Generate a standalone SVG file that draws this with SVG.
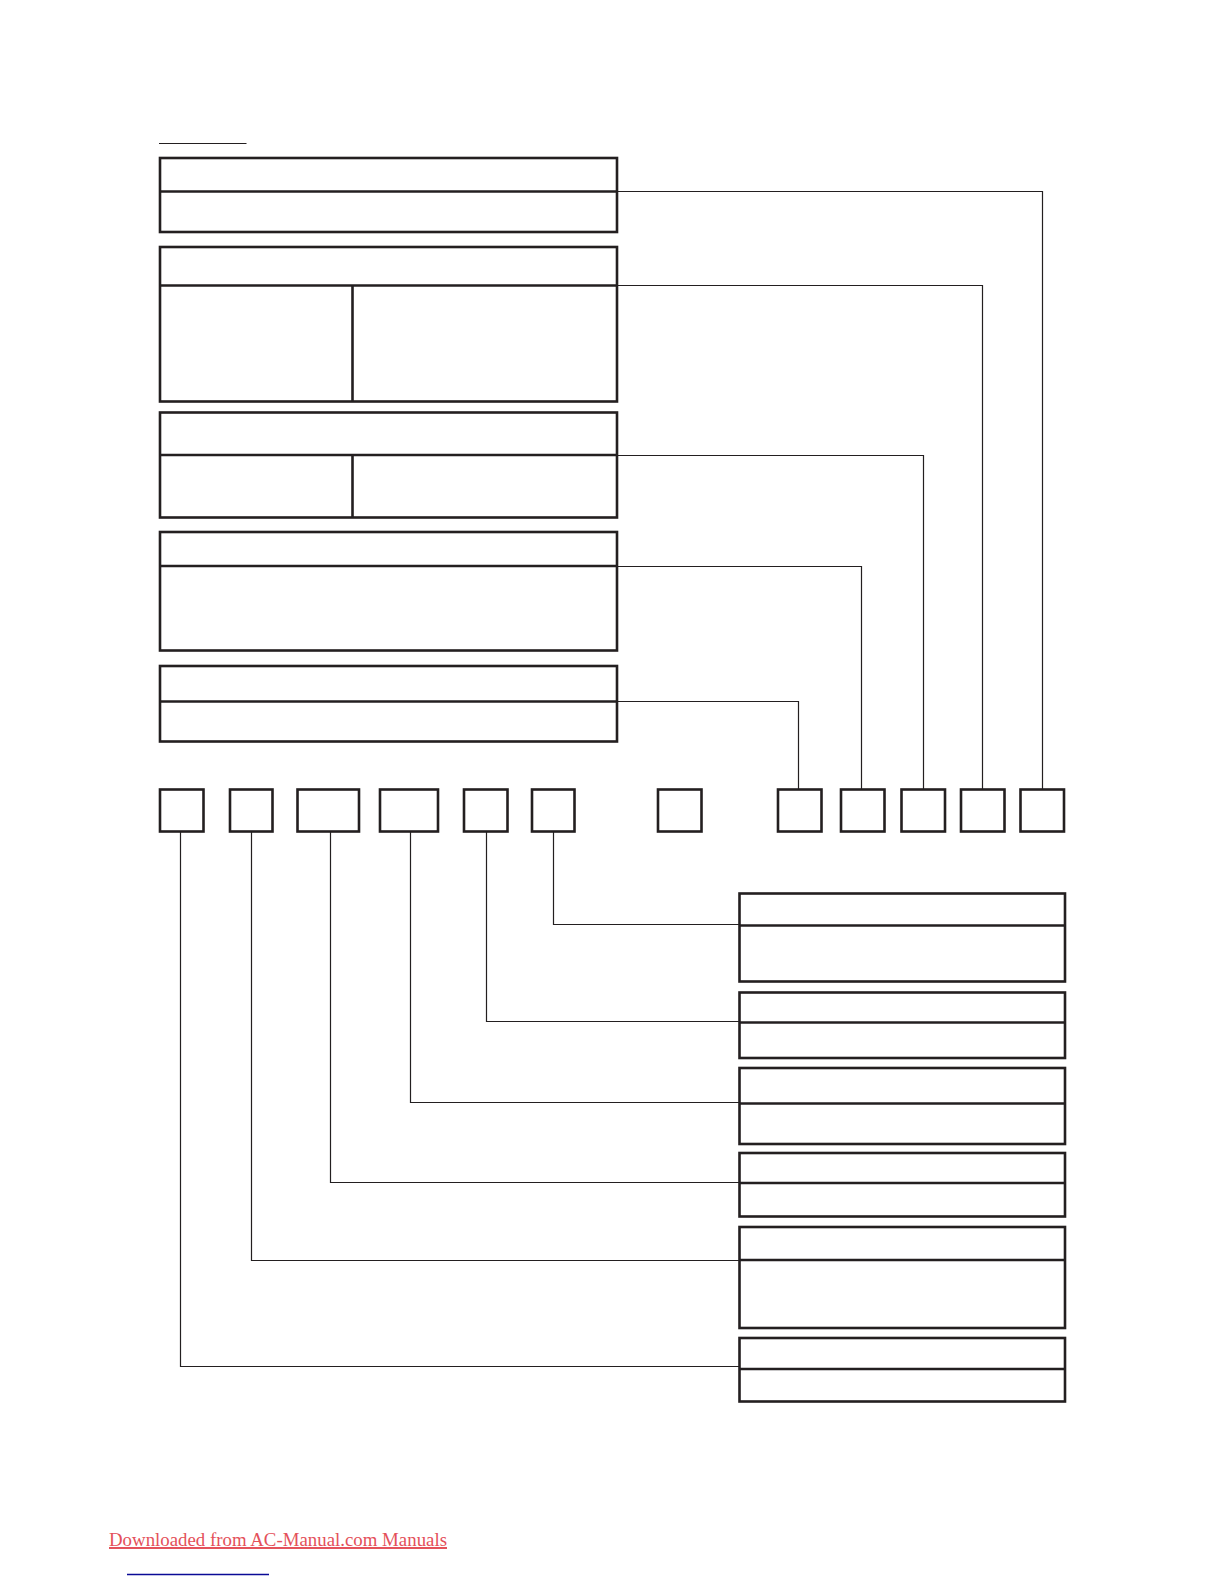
<svg xmlns="http://www.w3.org/2000/svg" width="1224" height="1584" viewBox="0 0 1224 1584">
<style>
.box{fill:none;stroke:#231f20;stroke-width:2.6}
.div{stroke:#231f20;stroke-width:2.6}
.conn{fill:none;stroke:#231f20;stroke-width:1.2}
.link{font-family:"Liberation Serif","Times New Roman",serif;font-size:19.7px;fill:#e4505a}
</style>
<rect width="1224" height="1584" fill="#ffffff"/>
<line x1="159" y1="143.5" x2="246.5" y2="143.5" stroke="#231f20" stroke-width="1.2"/>
<g id="panel-a">
<rect class="box" x="160" y="158" width="457" height="74"/>
<line class="div" x1="160" y1="191.5" x2="617" y2="191.5"/>
</g>
<g id="panel-b">
<rect class="box" x="160" y="247" width="457" height="154.5"/>
<line class="div" x1="160" y1="285.5" x2="617" y2="285.5"/>
<line class="div" x1="352.5" y1="285.5" x2="352.5" y2="401.5"/>
</g>
<g id="panel-c">
<rect class="box" x="160" y="412.5" width="457" height="105"/>
<line class="div" x1="160" y1="455" x2="617" y2="455"/>
<line class="div" x1="352.5" y1="455" x2="352.5" y2="517.5"/>
</g>
<g id="panel-d">
<rect class="box" x="160" y="532" width="457" height="118.5"/>
<line class="div" x1="160" y1="566" x2="617" y2="566"/>
</g>
<g id="panel-e">
<rect class="box" x="160" y="666" width="457" height="75.5"/>
<line class="div" x1="160" y1="701.5" x2="617" y2="701.5"/>
</g>
<g id="code-1"><rect class="box" x="160" y="789.5" width="43.5" height="42"/></g>
<g id="code-2"><rect class="box" x="230" y="789.5" width="42.5" height="42"/></g>
<g id="code-3"><rect class="box" x="297.5" y="789.5" width="61.5" height="42"/></g>
<g id="code-4"><rect class="box" x="380" y="789.5" width="58" height="42"/></g>
<g id="code-5"><rect class="box" x="464" y="789.5" width="43.5" height="42"/></g>
<g id="code-6"><rect class="box" x="532" y="789.5" width="42.5" height="42"/></g>
<g id="code-7"><rect class="box" x="658" y="789.5" width="43.5" height="42"/></g>
<g id="code-8"><rect class="box" x="778" y="789.5" width="43.5" height="42"/></g>
<g id="code-9"><rect class="box" x="841" y="789.5" width="43.5" height="42"/></g>
<g id="code-10"><rect class="box" x="901.5" y="789.5" width="43.5" height="42"/></g>
<g id="code-11"><rect class="box" x="961" y="789.5" width="43.5" height="42"/></g>
<g id="code-12"><rect class="box" x="1020.5" y="789.5" width="43.5" height="42"/></g>
<g id="panel-r1">
<rect class="box" x="739.5" y="893.5" width="325.5" height="88"/>
<line class="div" x1="739.5" y1="925.5" x2="1065" y2="925.5"/>
</g>
<g id="panel-r2">
<rect class="box" x="739.5" y="992.5" width="325.5" height="65.5"/>
<line class="div" x1="739.5" y1="1022.5" x2="1065" y2="1022.5"/>
</g>
<g id="panel-r3">
<rect class="box" x="739.5" y="1068" width="325.5" height="76"/>
<line class="div" x1="739.5" y1="1103.5" x2="1065" y2="1103.5"/>
</g>
<g id="panel-r4">
<rect class="box" x="739.5" y="1153" width="325.5" height="63.5"/>
<line class="div" x1="739.5" y1="1183" x2="1065" y2="1183"/>
</g>
<g id="panel-r5">
<rect class="box" x="739.5" y="1227" width="325.5" height="101"/>
<line class="div" x1="739.5" y1="1260" x2="1065" y2="1260"/>
</g>
<g id="panel-r6">
<rect class="box" x="739.5" y="1338" width="325.5" height="63.5"/>
<line class="div" x1="739.5" y1="1369" x2="1065" y2="1369"/>
</g>
<g id="connectors">
<polyline class="conn" points="617,191.5 1042.5,191.5 1042.5,789.5"/>
<polyline class="conn" points="617,285.5 982.5,285.5 982.5,789.5"/>
<polyline class="conn" points="617,455.5 923.5,455.5 923.5,789.5"/>
<polyline class="conn" points="617,566.5 861.5,566.5 861.5,789.5"/>
<polyline class="conn" points="617,701.5 798.5,701.5 798.5,789.5"/>
<polyline class="conn" points="553.5,831.5 553.5,924.5 739.5,924.5"/>
<polyline class="conn" points="486.5,831.5 486.5,1021.5 739.5,1021.5"/>
<polyline class="conn" points="410.5,831.5 410.5,1102.5 739.5,1102.5"/>
<polyline class="conn" points="330.5,831.5 330.5,1182.5 739.5,1182.5"/>
<polyline class="conn" points="251.5,831.5 251.5,1260.5 739.5,1260.5"/>
<polyline class="conn" points="180.5,831.5 180.5,1366.5 739.5,1366.5"/>
</g>
<text class="link" x="109" y="1546" textLength="338" lengthAdjust="spacingAndGlyphs" text-decoration="underline">Downloaded from AC-Manual.com Manuals</text>
<line x1="127" y1="1574.5" x2="269" y2="1574.5" stroke="#0a0a96" stroke-width="1.5"/>
</svg>
